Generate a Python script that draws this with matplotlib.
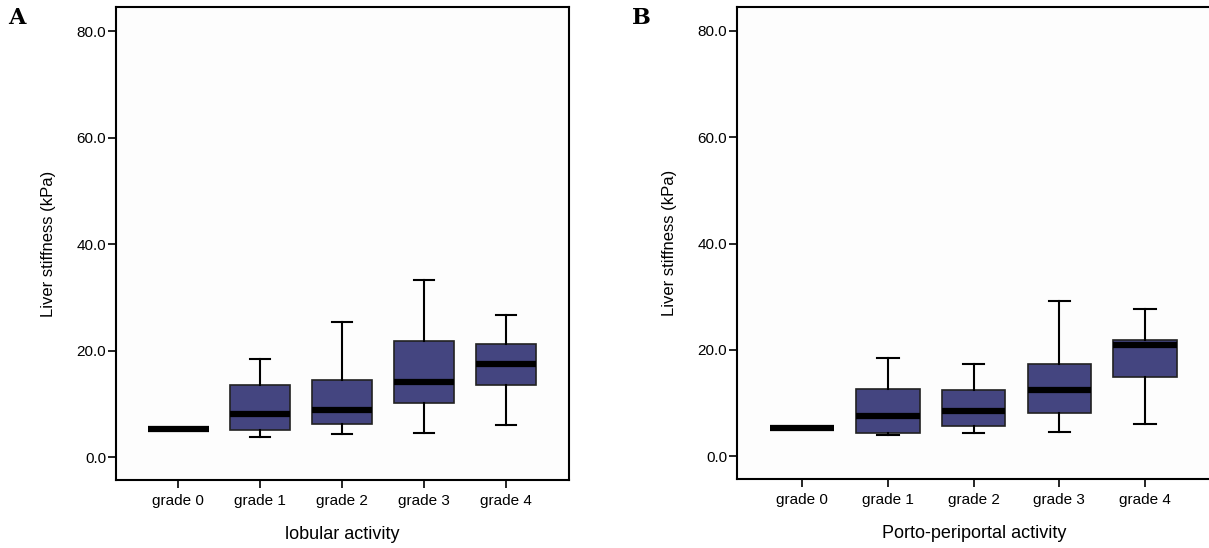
import matplotlib
matplotlib.use('Agg')
import matplotlib.pyplot as plt

plt.rcParams['font.family'] = ['Liberation Sans', 'DejaVu Sans']

grades = ['grade 0', 'grade 1', 'grade 2', 'grade 3', 'grade 4']

# lobular activity (panel A): whisker low, Q1, median, Q3, whisker high
lob_low = [5.3, 3.8, 4.4, 4.6, 6.1]
lob_q1 = [5.3, 5.1, 6.3, 10.1, 13.5]
lob_med = [5.3, 8.1, 8.9, 14.1, 17.5]
lob_q3 = [5.3, 13.5, 14.5, 21.8, 21.2]
lob_high = [5.3, 18.4, 25.4, 33.2, 26.6]

# porto-periportal activity (panel B)
por_low = [5.3, 4.0, 4.4, 4.6, 6.1]
por_q1 = [5.3, 4.3, 5.7, 8.1, 14.9]
por_med = [5.3, 7.5, 8.5, 12.5, 21.0]
por_q3 = [5.3, 12.6, 12.4, 17.4, 21.8]
por_high = [5.3, 18.4, 17.3, 29.1, 27.7]

yticks = [0, 20, 40, 60, 80]
box_color = '#444580'


def make_stats(low, q1, med, q3, high):
    stats = []
    for i in range(len(grades)):
        stats.append({'whislo': low[i], 'q1': q1[i], 'med': med[i],
                      'q3': q3[i], 'whishi': high[i], 'fliers': [],
                      'label': grades[i]})
    return stats


def draw_panel(ax, stats, xlabel, letter, letter_x):
    ax.bxp(stats, positions=range(len(grades)), widths=0.74, capwidths=0.25,
           patch_artist=True, showfliers=False,
           boxprops=dict(facecolor=box_color, edgecolor='#222222', linewidth=1.2),
           medianprops=dict(color='black', linewidth=4.5, solid_capstyle='butt'),
           whiskerprops=dict(color='black', linewidth=1.5),
           capprops=dict(color='black', linewidth=1.5))
    ax.set_xlim(-0.76, 4.77)
    ax.set_ylim(-4.3, 84.5)
    ax.set_yticks(yticks)
    ax.set_yticklabels(['%.1f' % v for v in yticks])
    ax.set_xticks(range(len(grades)))
    ax.set_xticklabels(grades)
    ax.tick_params(axis='both', labelsize=11, length=6, width=1.2, direction='out')
    ax.tick_params(axis='y', pad=1)
    ax.tick_params(axis='x', pad=4)
    ax.set_ylabel('Liver stiffness (kPa)', fontsize=12, labelpad=15)
    ax.set_xlabel(xlabel, fontsize=13, labelpad=13)
    for s in ax.spines.values():
        s.set_linewidth(1.5)
        s.set_color('black')
    ax.set_facecolor('#fdfdfd')
    fig.text(letter_x, 0.967, letter, fontsize=16, fontweight='bold',
             family='DejaVu Serif', va='center', ha='left')


fig = plt.figure(figsize=(12.09, 5.48), dpi=100)
ax1 = fig.add_axes([0.0959, 0.1241, 0.3747, 0.863])
ax2 = fig.add_axes([0.6096, 0.1259, 0.392, 0.8613])

draw_panel(ax1, make_stats(lob_low, lob_q1, lob_med, lob_q3, lob_high),
           'lobular activity', 'A', 0.007)
draw_panel(ax2, make_stats(por_low, por_q1, por_med, por_q3, por_high),
           'Porto-periportal activity', 'B', 0.523)
ax2.spines['right'].set_visible(False)

fig.savefig('out.png', dpi=100)
